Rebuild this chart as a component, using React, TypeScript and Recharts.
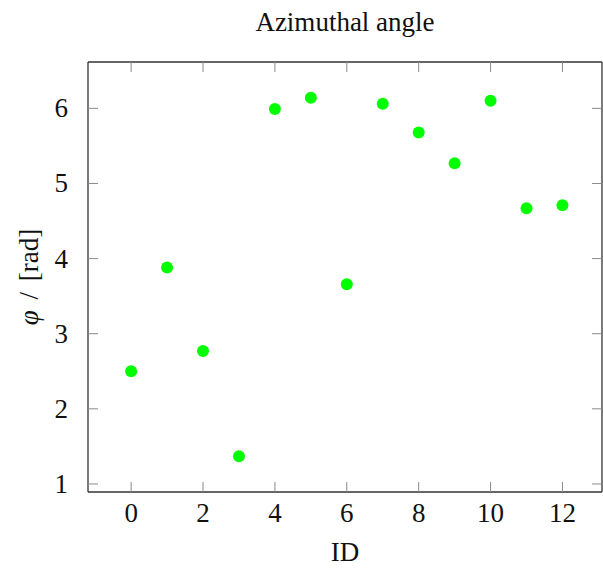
import React from 'react';
import { ScatterChart, Scatter, XAxis, YAxis } from 'recharts';

const ids = [0, 1, 2, 3, 4, 5, 6, 7, 8, 9, 10, 11, 12];
const phi = [2.5, 3.88, 2.77, 1.37, 5.99, 6.14, 3.66, 6.06, 5.68, 5.27, 6.1, 4.67, 4.71];
const xTicks = [0, 2, 4, 6, 8, 10, 12];
const yTicks = [1, 2, 3, 4, 5, 6];
const title = 'Azimuthal angle';
const xLabel = 'ID';
const yLabelSym = 'φ';
const yLabelUnit = ' / [rad]';

const data = ids.map((id, i) => ({ id, phi: phi[i] }));

const FONT = "'Liberation Serif', 'DejaVu Serif', serif";
const FS = 27;
const TICK_COLOR = '#8a8a8a';
const AXIS_COLOR = '#333';
const TL = 10;
const X_DOMAIN = [-1.2, 13.1];
const Y_DOMAIN = [0.893, 6.617];

const BottomTick = (p: any) => (
  <g>
    <line x1={p.x} x2={p.x} y1={p.y} y2={p.y - TL} stroke={TICK_COLOR} strokeWidth={1} />
    <text x={p.x} y={p.y + 30} textAnchor="middle" fontFamily={FONT} fontSize={FS} fill="#111">
      {p.payload.value}
    </text>
  </g>
);
const TopTick = (p: any) => (
  <line x1={p.x} x2={p.x} y1={p.y} y2={p.y + TL} stroke={TICK_COLOR} strokeWidth={1} />
);
const LeftTick = (p: any) => (
  <g>
    <line x1={p.x} x2={p.x + TL} y1={p.y} y2={p.y} stroke={TICK_COLOR} strokeWidth={1} />
    <text x={p.x - 20} y={p.y + 9} textAnchor="end" fontFamily={FONT} fontSize={FS} fill="#111">
      {p.payload.value}
    </text>
  </g>
);
const RightTick = (p: any) => (
  <line x1={p.x} x2={p.x - TL} y1={p.y} y2={p.y} stroke={TICK_COLOR} strokeWidth={1} />
);

export default function App() {
  return (
    <div style={{ position: 'absolute', left: 0, top: 0, width: 603, height: 572 }}>
      <ScatterChart width={603} height={572} margin={{ top: 61, right: 0, bottom: 40, left: 38 }}>
        <XAxis
          xAxisId="b"
          dataKey="id"
          type="number"
          domain={X_DOMAIN}
          allowDataOverflow
          ticks={xTicks}
          height={40}
          tickSize={0}
          tickMargin={0}
          tick={BottomTick}
          tickLine={false}
          axisLine={{ stroke: AXIS_COLOR, strokeWidth: 1.3 }}
        />
        <XAxis
          xAxisId="t"
          dataKey="id"
          orientation="top"
          type="number"
          domain={X_DOMAIN}
          allowDataOverflow
          ticks={xTicks}
          height={1}
          tickSize={0}
          tickMargin={0}
          tick={TopTick}
          tickLine={false}
          axisLine={{ stroke: AXIS_COLOR, strokeWidth: 1.3 }}
        />
        <YAxis
          yAxisId="l"
          dataKey="phi"
          type="number"
          domain={Y_DOMAIN}
          allowDataOverflow
          ticks={yTicks}
          width={50}
          tickSize={0}
          tickMargin={0}
          tick={LeftTick}
          tickLine={false}
          axisLine={{ stroke: AXIS_COLOR, strokeWidth: 1.3 }}
        />
        <YAxis
          yAxisId="r"
          dataKey="phi"
          orientation="right"
          type="number"
          domain={Y_DOMAIN}
          allowDataOverflow
          ticks={yTicks}
          width={1}
          tickSize={0}
          tickMargin={0}
          tick={RightTick}
          tickLine={false}
          axisLine={{ stroke: AXIS_COLOR, strokeWidth: 1.3 }}
        />
        <Scatter
          xAxisId="t"
          yAxisId="r"
          data={data}
          isAnimationActive={false}
          shape={() => <g />}
        />
        <Scatter
          xAxisId="b"
          yAxisId="l"
          data={data}
          fill="#00ff00"
          isAnimationActive={false}
          shape={(p: any) => <circle cx={p.cx} cy={p.cy} r={6} fill="#00ff00" />}
        />
      </ScatterChart>
      <svg
        width={603}
        height={572}
        style={{ position: 'absolute', left: 0, top: 0, pointerEvents: 'none' }}
      >
        <text x={345} y={31} textAnchor="middle" fontFamily={FONT} fontSize={FS} fill="#111">
          {title}
        </text>
        <text x={345} y={561} textAnchor="middle" fontFamily={FONT} fontSize={FS} fill="#111">
          {xLabel}
        </text>
        <text
          transform="translate(38,277) rotate(-90)"
          textAnchor="middle"
          fontFamily={FONT}
          fontSize={FS}
          fill="#111"
          wordSpacing={4}
        >
          <tspan fontStyle="italic">{yLabelSym}</tspan>
          {yLabelUnit}
        </text>
      </svg>
    </div>
  );
}
